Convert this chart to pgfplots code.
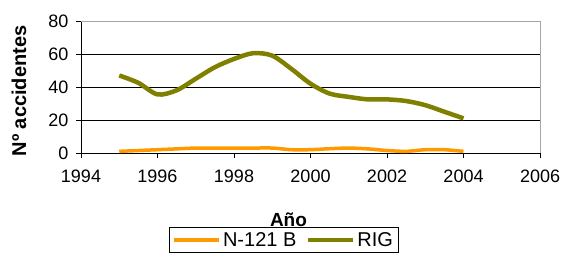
\documentclass[border=0pt]{standalone}
\usepackage{fontspec}
\setmainfont{Liberation Sans}
\usepackage{pgfplots}
\pgfplotsset{compat=1.18}
\definecolor{olv}{HTML}{808000}
\definecolor{org}{HTML}{FF9900}
\begin{document}
\begin{tikzpicture}
\begin{axis}[
  scale only axis, width=459pt, height=132pt,
  xmin=1994, xmax=2006, ymin=0, ymax=80,
  xtick={1994,1996,...,2006}, ytick={0,20,...,80},
  /pgf/number format/assume math mode=true,
  /pgf/number format/1000 sep={},
  axis x line*=bottom, axis y line*=left,
  axis line style={black, line width=0.8pt, -},
  tick align=outside, major tick length=5pt,
  tick style={black, line width=0.8pt},
  ymajorgrids, grid style={black, line width=0.6pt},
  tick label style={font=\fontsize{18}{21}\selectfont},
  xticklabel style={yshift=-8pt},
  yticklabel style={xshift=-4pt},
  xlabel={Año},
  xlabel style={font=\fontsize{19}{22}\bfseries, at={(axis description cs:0.452,-0.5606)}, anchor=base},
  ylabel={Nº accidentes},
  ylabel style={font=\fontsize{20}{23}\bfseries, at={(axis description cs:-0.135,0.4697)}, anchor=center, rotate=0},
  legend columns=2,
  legend style={at={(axis description cs:0.4412,-0.5606)}, anchor=north, draw=black, line width=0.6pt,
    font=\fontsize{20}{23}\selectfont, inner xsep=3pt, inner ysep=3pt,
    /tikz/every even column/.append style={column sep=8pt}},
  legend image code/.code={\draw[#1, line width=4pt] (0pt,0pt) -- (45pt,0pt);},
  legend cell align=left,
  clip=false,
]
\addplot[org, line width=3.5pt, smooth, tension=0.4] coordinates {
 (1995,1) (1995.5,1.5) (1996,2) (1996.5,2.5) (1997,3) (1997.5,3) (1998,3) (1998.5,3) (1999,3) (1999.5,2) (2000,2) (2000.5,2.6) (2001,3) (2001.5,2.5) (2002,1.5) (2002.5,1) (2003,2) (2003.5,2) (2004,1)
};
\addlegendentry{N-121 B}
\addplot[olv, line width=4.5pt, smooth, tension=0.5] coordinates {
 (1995,47) (1995.5,42.5) (1996,35.5) (1996.5,38) (1997,45) (1997.5,52) (1998,57) (1998.5,60.5) (1999,59) (1999.5,51) (2000,42) (2000.5,36) (2001,34) (2001.5,32.5) (2002,32.5) (2002.5,31.5) (2003,29) (2003.5,25) (2004,21)
};
\addlegendentry{RIG}
\draw[gray!70, line width=1pt] (rel axis cs:0,1) -- (rel axis cs:1,1) -- (rel axis cs:1,0);
\coordinate (ll) at (rel axis cs:0,0);
\coordinate (ur) at (rel axis cs:1,1);
\end{axis}
\pgfresetboundingbox
\path ([xshift=-81pt,yshift=-109pt]ll) rectangle ([xshift=22pt,yshift=21pt]ur);
\end{tikzpicture}
\end{document}
